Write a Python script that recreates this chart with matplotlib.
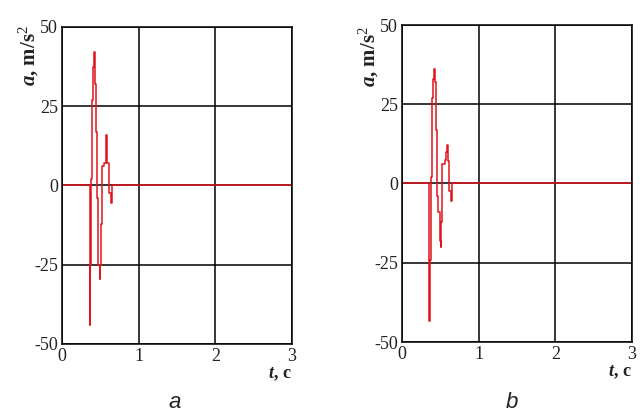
import matplotlib
matplotlib.use("Agg")
import matplotlib.pyplot as plt

plt.rcParams['mathtext.fontset'] = 'custom'
plt.rcParams['mathtext.rm'] = 'Liberation Serif'
plt.rcParams['mathtext.it'] = 'Liberation Serif:italic:bold'
plt.rcParams['mathtext.bf'] = 'Liberation Serif:bold'

# step signal, panel a
t_a = [0, 0.36, 0.365, 0.372, 0.39, 0.408, 0.42, 0.43, 0.448, 0.458, 0.472, 0.49,
       0.5, 0.51, 0.525, 0.552, 0.568, 0.578, 0.59, 0.618, 0.635, 0.655, 3.0]
acc_a = [0, -44, -25, 2, 27, 37.5, 42, 32, 17, -4, -25, -29.5,
         -25, -12, 6, 7, 12, 16, 7, -2.5, -5.5, 0, 0]

# step signal, panel b
t_b = [0, 0.355, 0.36, 0.365, 0.372, 0.39, 0.408, 0.418, 0.43, 0.448, 0.458, 0.47,
       0.49, 0.503, 0.512, 0.528, 0.556, 0.572, 0.585, 0.598, 0.616, 0.634, 0.652, 3.0]
acc_b = [0, -43.5, -38, -24, 2, 27, 33, 36, 32, 17, -4, -9,
         -18, -20, -12, 6, 7.5, 10, 12, 7, -2.5, -5.5, 0, 0]

xticks = [0, 1, 2, 3]
yticks = [-50, -25, 0, 25, 50]
ytick_labels = ['-50', '-25', '0', '25', '50']
captions = ['a', 'b']

fig = plt.figure(figsize=(6.43, 4.11), dpi=100)
ax_a = fig.add_axes([62 / 643, 67 / 411, 230 / 643, 317 / 411])
ax_b = fig.add_axes([402 / 643, 69 / 411, 230 / 643, 317 / 411])

panels = [(ax_a, t_a, acc_a, 0.91, 175), (ax_b, t_b, acc_b, 0.90, 512)]
for (ax, t, acc, ylab_y, cap_x), cap in zip(panels, captions):
    ax.set_axisbelow(True)
    ax.grid(True, color='black', linewidth=1.1)
    ax.step(t, acc, where='post', color='#e0141c', linewidth=1.1)
    ax.set_xlim(0, 3)
    ax.set_ylim(-50, 50)
    ax.set_xticks(xticks)
    ax.set_xticklabels([str(x) for x in xticks], family='Liberation Serif', fontsize=13)
    ax.set_yticks(yticks)
    ax.set_yticklabels(ytick_labels, family='Liberation Serif', fontsize=13)
    ax.tick_params(length=0, pad=3, colors='#222222')
    for sp in ax.spines.values():
        sp.set_linewidth(1.1)
    ax.text(-0.145, ylab_y, r'$a$, m/s$^{2}$', transform=ax.transAxes, rotation=90,
            ha='center', va='center', family='Liberation Serif', weight='bold',
            fontsize=15, color='#222222')
    ax.text(1.0, -0.095, r'$t$, c', transform=ax.transAxes, ha='right', va='center',
            family='Liberation Serif', weight='bold', fontsize=13, color='#222222')
    fig.text(cap_x / 643, 1 - 402 / 411, cap, ha='center', va='center',
             family='Liberation Sans', style='italic', fontsize=16, color='#222222')

fig.savefig('out.png', dpi=100)
